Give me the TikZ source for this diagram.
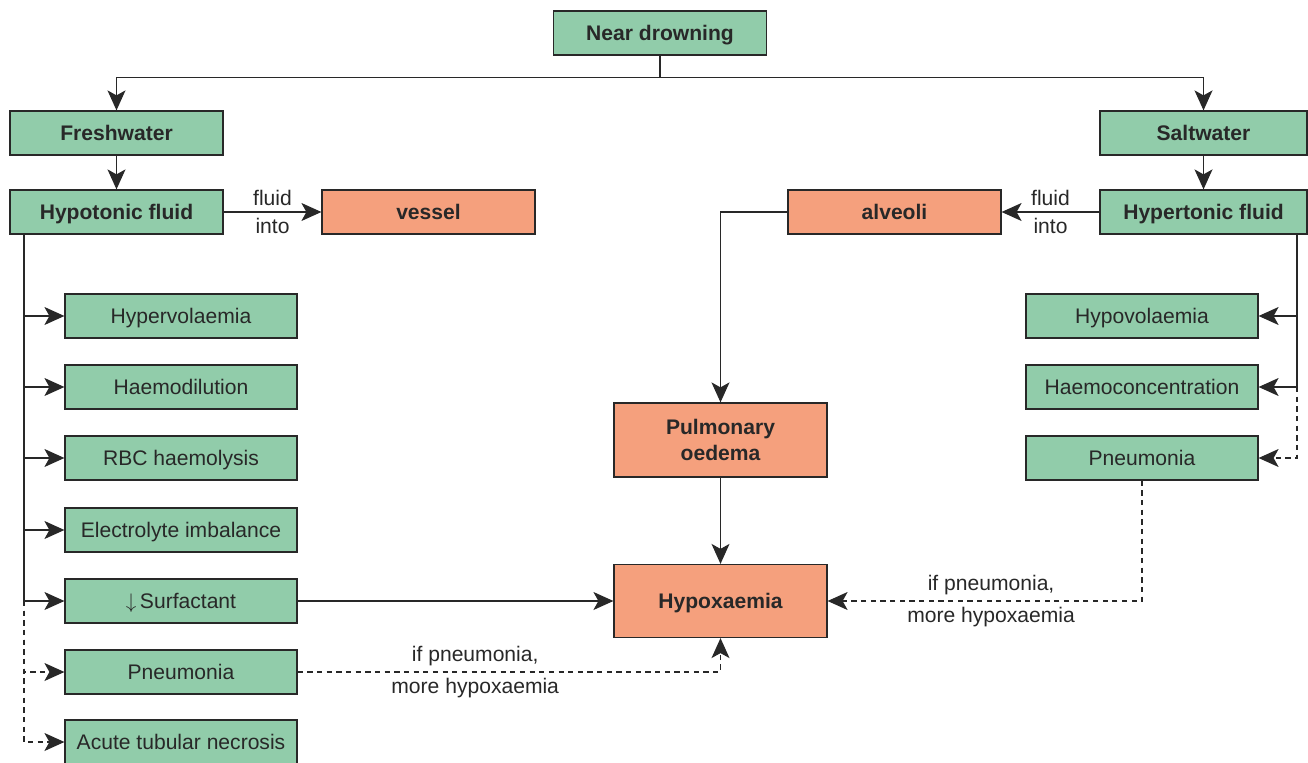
\documentclass[tikz,border=0pt]{standalone}
\usepackage{fontspec}
\setmainfont{Liberation Sans}
\usetikzlibrary{arrows.meta}
\definecolor{mygreen}{RGB}{145,204,170}
\definecolor{myorange}{RGB}{245,160,125}
\definecolor{myline}{RGB}{40,40,40}

\begin{document}
\begin{tikzpicture}[x=0.02cm,y=-0.02cm,
    color=myline,line width=0.7pt,
    font=\fontsize{12}{14.5}\selectfont,
    gbox/.style={draw=myline,fill=mygreen,minimum width=4.26cm,minimum height=0.88cm,inner sep=2pt,
      text height=8.6pt,text depth=0pt},
    obox/.style={gbox,fill=myorange},
    lbox/.style={gbox,minimum width=4.64cm},
    bold/.style={font=\fontsize{12}{14.5}\selectfont\bfseries},
    >={Stealth[length=0.4cm,width=0.36cm,inset=0.1cm]},
    dashed/.style={dash pattern=on 3pt off 2.5pt}
  ]
  \useasboundingbox (0,0) rectangle (1308,763);

  % the top of the tree
  \node [gbox,bold] (near) at (660,33) {Near drowning};
  \node [gbox,bold] (fresh) at (116.5,133) {Freshwater};
  \node [gbox,bold,minimum width=4.14cm] (salt) at (1203.5,133) {Saltwater};
  \node [gbox,bold] (hypo) at (116.5,212) {Hypotonic fluid};
  \node [gbox,bold,minimum width=4.14cm] (hyper) at (1203.5,212) {Hypertonic fluid};
  \node [obox,bold] (vessel) at (428.5,212) {vessel};
  \node [obox,bold] (alveoli) at (894.5,212) {alveoli};
  \node [obox,bold,align=center,minimum height=1.48cm,text height=23.1pt] (oedema) at (720.5,440) {Pulmonary\\oedema};
  \node [obox,bold,minimum height=1.46cm] (hypox) at (720.5,601) {Hypoxaemia};

  % the freshwater effects
  \foreach \i/\ycoord/\txt in {1/316/Hypervolaemia,2/387/Haemodilution,3/458/RBC haemolysis,
      4/530/Electrolyte imbalance,5/601/{$\downarrow$\,Surfactant},6/672/Pneumonia,7/742/Acute tubular necrosis}
    \node [lbox] (f\i) at (181,\ycoord) {\txt};

  % the saltwater effects
  \foreach \i/\ycoord/\txt in {1/316/Hypovolaemia,2/387/Haemoconcentration,3/458/Pneumonia}
    \node [lbox] (s\i) at (1142,\ycoord) {\txt};

  % the edges
  \draw (near.south) -- ++(0,22) coordinate (split);
  \draw [->] (split) -| (fresh.north);
  \draw [->] (split) -| (salt.north);
  \draw [->] (fresh) -- (hypo);
  \draw [->] (salt) -- (hyper);
  \draw [->] (hypo) -- node [above] {fluid} node [below] {into} (vessel);
  \draw [->] (hyper) -- node [above] {fluid} node [below] {into} (alveoli);
  \draw [->] (alveoli.west) -| (oedema.north);
  \draw [->] (oedema) -- (hypox);

  \coordinate (lt) at (24,234);
  \foreach \i in {1,...,5}
    \draw [->] (lt) |- (f\i.west);
  \draw [dashed,->] (f5.west -| lt) |- (f6.west);
  \draw [dashed,->] (f5.west -| lt) |- (f7.west);
  \draw [->] (f5) -- (hypox);
  \draw [dashed,->] (f6.east) -| node [pos=0.21,above] {if pneumonia,} node [pos=0.21,below] {more hypoxaemia} (hypox.south);

  \coordinate (rt) at (1297,234);
  \foreach \i in {1,2}
    \draw [->] (rt) |- (s\i.east);
  \draw [dashed,->] (s2.east -| rt) |- (s3.east);
  \draw [dashed,->] (s3.south) |- node [pos=0.74,above] {if pneumonia,} node [pos=0.74,below] {more hypoxaemia} (hypox.east);
\end{tikzpicture}
\end{document}
